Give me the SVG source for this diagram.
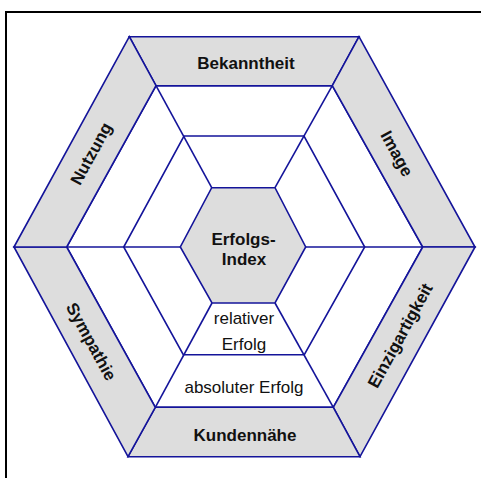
<svg xmlns="http://www.w3.org/2000/svg" width="481" height="478" viewBox="0 0 481 478">
<style>
.band{fill:#dddddd;stroke:#14149a;stroke-width:1.6;stroke-linejoin:miter}
.cell{fill:#ffffff;stroke:#14149a;stroke-width:1.6}
.line{fill:none;stroke:#14149a;stroke-width:1.6}
.lb{font-family:"Liberation Sans",Arial,sans-serif;font-size:17px;font-weight:bold;fill:#111;text-anchor:middle}
.lr{font-family:"Liberation Sans",Arial,sans-serif;font-size:17px;fill:#111;text-anchor:middle}
</style>
<rect x="0" y="0" width="481" height="478" fill="#ffffff"/>
<rect id="frame" x="6" y="12" width="490" height="480" fill="none" stroke="#000" stroke-width="2"/>
<g id="ring-cells">
<polygon class="cell" points="156,85.7 332.3,85.7 422.7,247 333.3,407.3 155.3,407.3 66.7,247"/>
</g>
<g id="n-bekanntheit">
<polygon class="band" points="129.3,36.7 359,36.7 332.3,85.7 156,85.7"/>
<text class="lb" x="246" y="69">Bekanntheit</text>
</g>
<g id="n-image">
<polygon class="band" points="359,36.7 475,247 422.7,247 332.3,85.7"/>
<text class="lb" transform="translate(397,153.5) rotate(61.3)" x="0" y="6">Image</text>
</g>
<g id="n-einzigartigkeit">
<polygon class="band" points="475,247 360,456.7 333.3,407.3 422.7,247"/>
<text class="lb" transform="translate(400,335.5) rotate(-61.3)" x="0" y="6">Einzigartigkeit</text>
</g>
<g id="n-kundennaehe">
<polygon class="band" points="360,456.7 128,456.7 155.3,407.3 333.3,407.3"/>
<text class="lb" x="245" y="440.5">Kundennähe</text>
</g>
<g id="n-sympathie">
<polygon class="band" points="128,456.7 14,247 66.7,247 155.3,407.3"/>
<text class="lb" transform="translate(91.5,341.5) rotate(61.3)" x="0" y="6">Sympathie</text>
</g>
<g id="n-nutzung">
<polygon class="band" points="14,247 129.3,36.7 156,85.7 66.7,247"/>
<text class="lb" transform="translate(91,153.5) rotate(-61.3)" x="0" y="6">Nutzung</text>
</g>
<g id="grid">
<polygon class="line" points="184,136 304,136 364.7,247 304.3,354.7 183.3,354.7 123.7,247"/>
<line class="line" x1="211.7" y1="187.7" x2="156" y2="85.7"/>
<line class="line" x1="275" y1="187.7" x2="332.3" y2="85.7"/>
<line class="line" x1="305.7" y1="247" x2="422.7" y2="247"/>
<line class="line" x1="275" y1="303" x2="333.3" y2="407.3"/>
<line class="line" x1="212" y1="303" x2="155.3" y2="407.3"/>
<line class="line" x1="180.3" y1="247" x2="66.7" y2="247"/>
</g>
<g id="n-relativer-erfolg">
<text class="lr" x="244" y="324">relativer</text>
<text class="lr" x="244" y="350">Erfolg</text>
</g>
<g id="n-absoluter-erfolg">
<text class="lr" x="244" y="392.5">absoluter Erfolg</text>
</g>
<g id="n-erfolgsindex">
<polygon class="band" points="211.7,187.7 275,187.7 305.7,247 275,303 212,303 180.3,247"/>
<text class="lb" x="243.5" y="244.5">Erfolgs-</text>
<text class="lb" x="244" y="265">Index</text>
</g>
</svg>
